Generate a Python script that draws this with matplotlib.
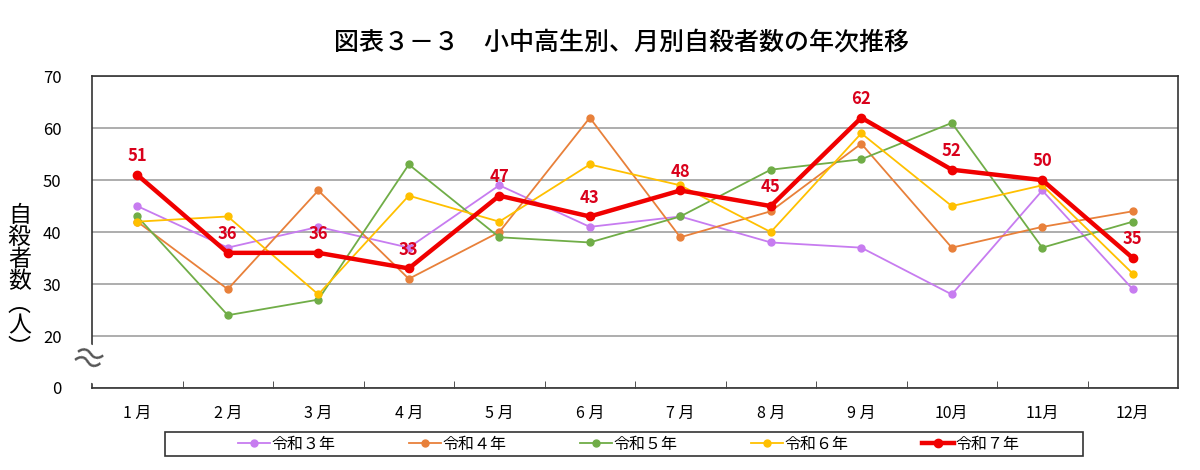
import matplotlib.pyplot as plt
from matplotlib.patches import Rectangle

plt.rcParams['font.family'] = ['Noto Sans CJK JP', 'DejaVu Sans']

months = ['1 月', '2 月', '3 月', '4 月', '5 月', '6 月', '7 月', '8 月', '9 月', '10月', '11月', '12月']
r3 = [45, 37, 41, 37, 49, 41, 43, 38, 37, 28, 48, 29]
r4 = [42, 29, 48, 31, 40, 62, 39, 44, 57, 37, 41, 44]
r5 = [43, 24, 27, 53, 39, 38, 43, 52, 54, 61, 37, 42]
r6 = [42, 43, 28, 47, 42, 53, 49, 40, 59, 45, 49, 32]
r7 = [51, 36, 36, 33, 47, 43, 48, 45, 62, 52, 50, 35]
series_names = ['令和３年', '令和４年', '令和５年', '令和６年', '令和７年']
y_ticks = [10, 20, 30, 40, 50, 60, 70]
y_ticklabels = ['0', '20', '30', '40', '50', '60', '70']

fig = plt.figure(figsize=(12, 4.7), dpi=100)
ax = fig.add_axes([0.0767, 0.1745, 0.905, 0.6635])

x = list(range(len(months)))
colors = ['#C77CF0', '#E8803A', '#70AD47', '#FFC000']
for vals, col, name in zip([r3, r4, r5, r6], colors, series_names[:4]):
    ax.plot(x, vals, color=col, lw=1.3, marker='o', ms=5, label=name)
ax.plot(x, r7, color='#F00000', lw=3.2, marker='o', ms=6, label=series_names[4], zorder=5)

for xi, v in zip(x, r7):
    ax.annotate(str(v), (xi, v), xytext=(0, 7), textcoords='offset points',
                ha='center', va='bottom', color='#D9001B', fontsize=12, fontweight='bold')

ax.set_xlim(-0.5, 11.5)
ax.set_ylim(10, 70)
ax.set_yticks(y_ticks)
ax.set_yticklabels(y_ticklabels, fontsize=12)
ax.set_xticks(x)
ax.set_xticklabels(months, fontsize=11.5)
ax.tick_params(axis='x', length=0, pad=12)
ax.tick_params(axis='y', length=0, pad=22)
ax.set_xticks([i + 0.5 for i in range(11)], minor=True)
ax.tick_params(axis='x', which='minor', direction='in', length=5, color='#333333')
ax.grid(axis='y', color='#A0A0A0', lw=1.2)
ax.set_axisbelow(True)
for s in ax.spines.values():
    s.set_color('#333333')
    s.set_linewidth(1.2)

# axis break mark
ax.text(-0.005, 15, '≈', transform=ax.get_yaxis_transform(), ha='center', va='center',
        fontsize=26, color='#555555', rotation=-20,
        bbox=dict(facecolor='white', edgecolor='none', pad=0))

fig.text(0.518, 0.91, '図表３－３　小中高生別、月別自殺者数の年次推移',
         ha='center', va='center', fontsize=18, fontweight='medium')
fig.text(0.016, 0.40, '自\n殺\n者\n数\n︵\n人\n︶', ha='center', va='center',
         fontsize=16.5, linespacing=0.95)

fig.patches.append(Rectangle((165 / 1200, 1 - 456 / 470), 918 / 1200, 24 / 470,
                             transform=fig.transFigure, facecolor='white',
                             edgecolor='#333333', lw=1.2))
fig.legend(loc='center', bbox_to_anchor=(0.524, 1 - 444 / 470), ncol=5, frameon=False,
           fontsize=11.5, handlelength=2, handletextpad=0.1, columnspacing=4.6)

fig.savefig('out.png', dpi=100)
